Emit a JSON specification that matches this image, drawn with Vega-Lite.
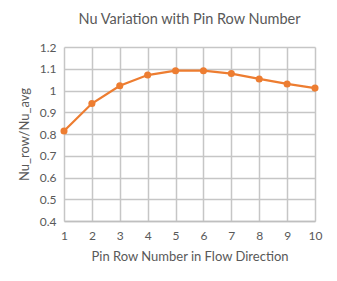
{
  "$schema": "https://vega.github.io/schema/vega-lite/v6.json",
  "autosize": "none",
  "width": 251,
  "height": 174,
  "padding": {"left": 64, "top": 47, "right": 22, "bottom": 60},
  "background": "white",
  "title": {
    "text": "Nu Variation with Pin Row Number",
    "font": "Lato",
    "fontSize": 14.5,
    "fontWeight": "normal",
    "color": "#595959",
    "anchor": "middle",
    "offset": 14
  },
  "data": {
    "values": [
      {"row": 1, "ratio": 0.814},
      {"row": 2, "ratio": 0.940},
      {"row": 3, "ratio": 1.022},
      {"row": 4, "ratio": 1.071},
      {"row": 5, "ratio": 1.091},
      {"row": 6, "ratio": 1.091},
      {"row": 7, "ratio": 1.078},
      {"row": 8, "ratio": 1.053},
      {"row": 9, "ratio": 1.030},
      {"row": 10, "ratio": 1.011}
    ]
  },
  "config": {
    "view": {"stroke": null},
    "axis": {
      "labelFont": "Lato",
      "titleFont": "Lato",
      "labelColor": "#595959",
      "titleColor": "#595959",
      "labelFontSize": 12,
      "titleFontSize": 13,
      "titleFontWeight": "normal",
      "tickSize": 0
    }
  },
  "mark": {
    "type": "line",
    "color": "#ED7D31",
    "strokeWidth": 2.25,
    "point": {"filled": true, "color": "#ED7D31", "size": 50}
  },
  "encoding": {
    "x": {
      "field": "row",
      "type": "quantitative",
      "scale": {"domain": [1, 10], "nice": false, "zero": false},
      "axis": {
        "values": [1, 2, 3, 4, 5, 6, 7, 8, 9, 10],
        "title": "Pin Row Number in Flow Direction",
        "grid": true,
        "gridColor": "#c6c6c6",
        "gridWidth": 1.5,
        "labelPadding": 9,
        "titlePadding": 9,
        "domainColor": "#bfbfbf",
        "domainWidth": 1.5,
        "labelFlush": false
      }
    },
    "y": {
      "field": "ratio",
      "type": "quantitative",
      "scale": {"domain": [0.4, 1.2], "nice": false, "zero": false},
      "axis": {
        "values": [0.4, 0.5, 0.6, 0.7, 0.8, 0.9, 1.0, 1.1, 1.2],
        "format": ".1~f",
        "title": "Nu_row/Nu_avg",
        "grid": true,
        "gridColor": "#c6c6c6",
        "gridWidth": 1.5,
        "labelPadding": 8,
        "titlePadding": 8,
        "domain": false,
        "labelFlush": false
      }
    }
  }
}
